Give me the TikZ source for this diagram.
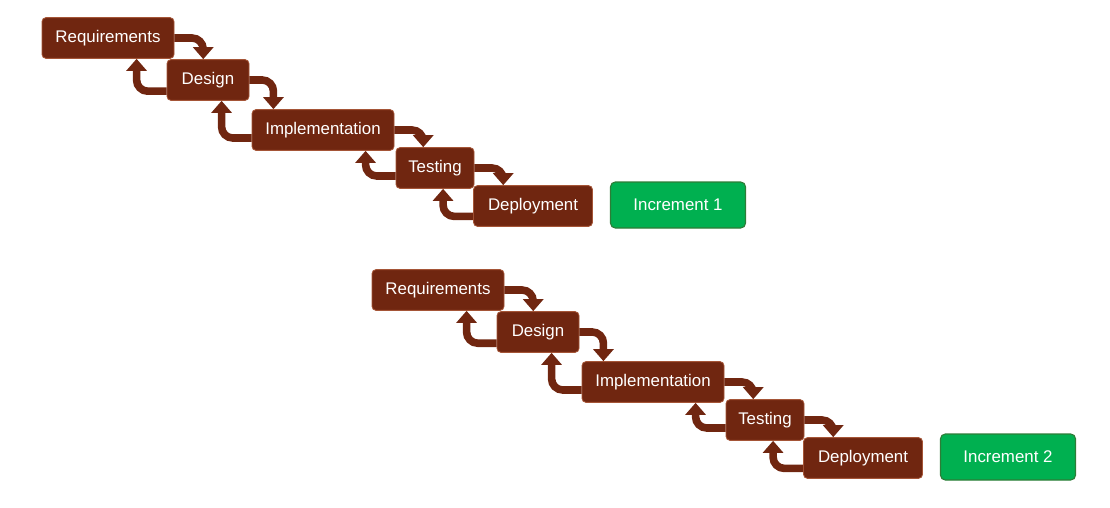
\documentclass[tikz,border=0pt]{standalone}
\usepackage{fontspec}
\setmainfont{Liberation Sans}
\usepackage{tikz}
\usetikzlibrary{calc}
\usetikzlibrary{arrows.meta}
\definecolor{WFbraun}{RGB}{112,38,16}
\definecolor{WFrand}{RGB}{165,85,55}
\definecolor{WFgruen}{RGB}{0,176,80}
\definecolor{WFgruenrand}{RGB}{45,125,55}
\begin{document}
\begin{tikzpicture}[Pfeil/.style={draw=WFbraun, line width=5.4pt, rounded corners=0.28cm, arrows = -{Triangle[width=0.5cm, length=0.3cm]}},
		Phase/.style={draw=WFrand, line width=0.6pt, fill=WFbraun, text=white, rounded corners=0.1cm, minimum height=1.02cm, inner sep=0pt, font=\fontsize{12}{14}\selectfont},
		Inkrement/.style={draw=WFgruenrand, line width=0.8pt, fill=WFgruen, text=white, rounded corners=0.12cm, minimum height=1.15cm, minimum width=3.375cm, inner sep=0pt, font=\fontsize{12}{14}\selectfont}]
				\useasboundingbox (0,0) rectangle (27.75,-12.675);
				\coordinate (a) at (2.7,-0.95);
				\node (r1) at (a) [Phase, minimum width=3.3cm] {Requirements};
				\node (d1) at ($(a) + (2.5,-1.05)$) [Phase, minimum width=2.05cm] {Design};
				\node (i1) at ($(a) + (5.375,-2.3)$) [Phase, minimum width=3.55cm] {Implementation};
				\node (t1) at ($(a) + (8.175,-3.25)$) [Phase, minimum width=1.95cm] {Testing};
				\node (p1) at ($(a) + (10.625,-4.2)$) [Phase, minimum width=2.975cm] {Deployment};
				\node (inc1) at ($(a) + (14.25,-4.175)$) [Inkrement] {Increment 1};
				\draw[Pfeil] (r1.east) -| ($(d1.north -| r1.east) + (0.72,0)$);
				\draw[Pfeil] (d1.east) -| ($(i1.north -| d1.east) + (0.6,0)$);
				\draw[Pfeil] (i1.east) -| ($(t1.north -| i1.east) + (0.72,0)$);
				\draw[Pfeil] (t1.east) -| ($(p1.north -| t1.east) + (0.72,0)$);
				\draw[Pfeil] ($(d1.west) + (0,-0.28)$) -| ($(r1.south -| d1.west) + (-0.75,0)$);
				\draw[Pfeil] ($(i1.west) + (0,-0.2)$) -| ($(d1.south -| i1.west) + (-0.75,0)$);
				\draw[Pfeil] ($(t1.west) + (0,-0.2)$) -| ($(i1.south -| t1.west) + (-0.75,0)$);
				\draw[Pfeil] ($(p1.west) + (0,-0.26)$) -| ($(t1.south -| p1.west) + (-0.75,0)$);
				\coordinate (a) at ($(a) + (8.25,-6.3)$);
				\node (r2) at (a) [Phase, minimum width=3.3cm] {Requirements};
				\node (d2) at ($(a) + (2.5,-1.05)$) [Phase, minimum width=2.05cm] {Design};
				\node (i2) at ($(a) + (5.375,-2.3)$) [Phase, minimum width=3.55cm] {Implementation};
				\node (t2) at ($(a) + (8.175,-3.25)$) [Phase, minimum width=1.95cm] {Testing};
				\node (p2) at ($(a) + (10.625,-4.2)$) [Phase, minimum width=2.975cm] {Deployment};
				\node (inc2) at ($(a) + (14.25,-4.175)$) [Inkrement] {Increment 2};
				\draw[Pfeil] (r2.east) -| ($(d2.north -| r2.east) + (0.72,0)$);
				\draw[Pfeil] (d2.east) -| ($(i2.north -| d2.east) + (0.6,0)$);
				\draw[Pfeil] (i2.east) -| ($(t2.north -| i2.east) + (0.72,0)$);
				\draw[Pfeil] (t2.east) -| ($(p2.north -| t2.east) + (0.72,0)$);
				\draw[Pfeil] ($(d2.west) + (0,-0.28)$) -| ($(r2.south -| d2.west) + (-0.75,0)$);
				\draw[Pfeil] ($(i2.west) + (0,-0.2)$) -| ($(d2.south -| i2.west) + (-0.75,0)$);
				\draw[Pfeil] ($(t2.west) + (0,-0.2)$) -| ($(i2.south -| t2.west) + (-0.75,0)$);
				\draw[Pfeil] ($(p2.west) + (0,-0.26)$) -| ($(t2.south -| p2.west) + (-0.75,0)$);
			\end{tikzpicture}
\end{document}
